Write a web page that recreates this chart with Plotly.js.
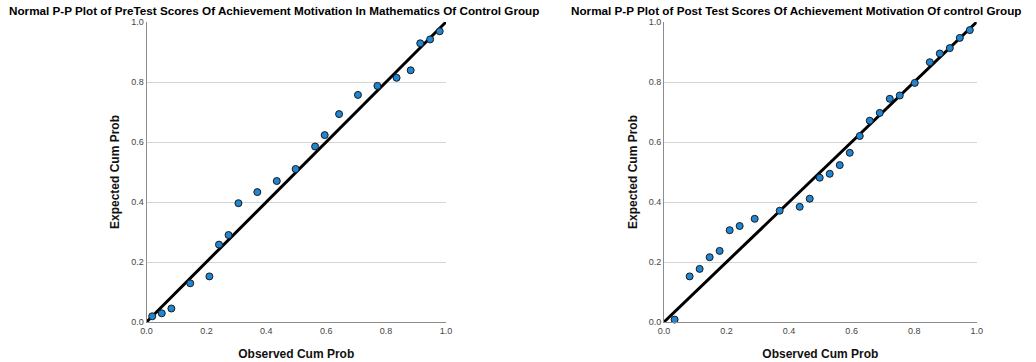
<!DOCTYPE html>
<html>
<head>
<meta charset="utf-8">
<script src="https://cdn.plot.ly/plotly-3.0.1.min.js"></script>
<style>html,body{margin:0;padding:0;background:#fff;}#chart{width:1036px;height:362px;}</style>
</head>
<body>
<div id="chart"></div>
<script>
const preObserved = [0.019,0.051,0.083,0.146,0.210,0.242,0.274,0.307,0.370,0.435,0.498,0.563,0.595,0.643,0.706,0.771,0.835,0.882,0.914,0.947,0.979];
const preExpected = [0.019,0.029,0.045,0.129,0.152,0.258,0.290,0.396,0.433,0.470,0.510,0.585,0.623,0.693,0.757,0.787,0.814,0.839,0.929,0.942,0.969];
const postObserved = [0.034,0.082,0.114,0.146,0.178,0.210,0.242,0.290,0.370,0.434,0.466,0.498,0.530,0.562,0.594,0.626,0.658,0.690,0.722,0.754,0.802,0.850,0.882,0.914,0.946,0.978];
const postExpected = [0.008,0.152,0.177,0.216,0.237,0.306,0.320,0.344,0.371,0.384,0.411,0.481,0.494,0.523,0.564,0.620,0.671,0.697,0.744,0.755,0.797,0.866,0.895,0.913,0.947,0.973];
const refLine = [0, 1];
const tickVals = [0, 0.2, 0.4, 0.6, 0.8, 1.0];
const tickText = ["0.0","0.2","0.4","0.6","0.8","1.0"];
const titles = ["Normal P-P Plot of PreTest Scores Of Achievement Motivation In Mathematics Of Control Group",
                "Normal P-P Plot of Post Test Scores Of Achievement Motivation Of control Group"];
const xTitle = "Observed Cum Prob";
const yTitle = "Expected Cum Prob";

const marker = {size: 7, color: '#1f86d4', line: {color: '#1a1a1a', width: 1}};
const lineStyle = {color: '#000000', width: 3};

const traces = [
  {x: refLine, y: refLine, mode: 'lines', line: lineStyle, xaxis: 'x', yaxis: 'y', hoverinfo: 'skip', cliponaxis: false},
  {x: preObserved, y: preExpected, mode: 'markers', marker: marker, xaxis: 'x', yaxis: 'y', cliponaxis: false},
  {x: refLine, y: refLine, mode: 'lines', line: lineStyle, xaxis: 'x2', yaxis: 'y2', hoverinfo: 'skip', cliponaxis: false},
  {x: postObserved, y: postExpected, mode: 'markers', marker: marker, xaxis: 'x2', yaxis: 'y2', cliponaxis: false}
];

const tickFont = {family: 'Liberation Sans, Arial, sans-serif', size: 9, color: '#444'};
const axTitleFont = {family: 'Liberation Sans, Arial, sans-serif', size: 12, color: '#111', weight: 'bold'};
const titleFont = {family: 'Liberation Sans, Arial, sans-serif', size: 11.7, color: '#000', weight: 'bold'};

function xa(domain, anchor) {
  return {domain: domain, anchor: anchor, range: [0, 1], tickvals: tickVals, ticktext: tickText,
    showgrid: false, zeroline: false, showline: true, linecolor: '#8c8c8c', linewidth: 1, ticks: '',
    tickfont: tickFont,
    title: {text: xTitle, font: axTitleFont, standoff: 14}};
}
function ya(anchor) {
  return {domain: [0, 1], anchor: anchor, range: [0, 1], tickvals: tickVals, ticktext: tickText,
    showgrid: true, gridcolor: '#d4d4d4', gridwidth: 1, zeroline: false, showline: true, linecolor: '#8c8c8c', linewidth: 1,
    ticks: '', tickfont: tickFont,
    title: {text: yTitle, font: axTitleFont, standoff: 8}};
}

const layout = {
  width: 1036, height: 362,
  margin: {l: 0, r: 0, t: 22, b: 40},
  paper_bgcolor: '#fff', plot_bgcolor: '#fff',
  showlegend: false,
  xaxis: xa([146.5/1036, 446/1036], 'y'),
  yaxis: ya('x'),
  xaxis2: xa([664/1036, 976.7/1036], 'y2'),
  yaxis2: ya('x2'),
  annotations: [
    {text: titles[0], xref: 'paper', yref: 'paper', x: 274/1036, y: 1, yshift: 3, yanchor: 'bottom', xanchor: 'center', showarrow: false,
     font: titleFont},
    {text: titles[1], xref: 'paper', yref: 'paper', x: 796/1036, y: 1, yshift: 3, yanchor: 'bottom', xanchor: 'center', showarrow: false,
     font: titleFont}
  ]
};

Plotly.newPlot('chart', traces, layout, {staticPlot: true, displayModeBar: false});
</script>
</body>
</html>
